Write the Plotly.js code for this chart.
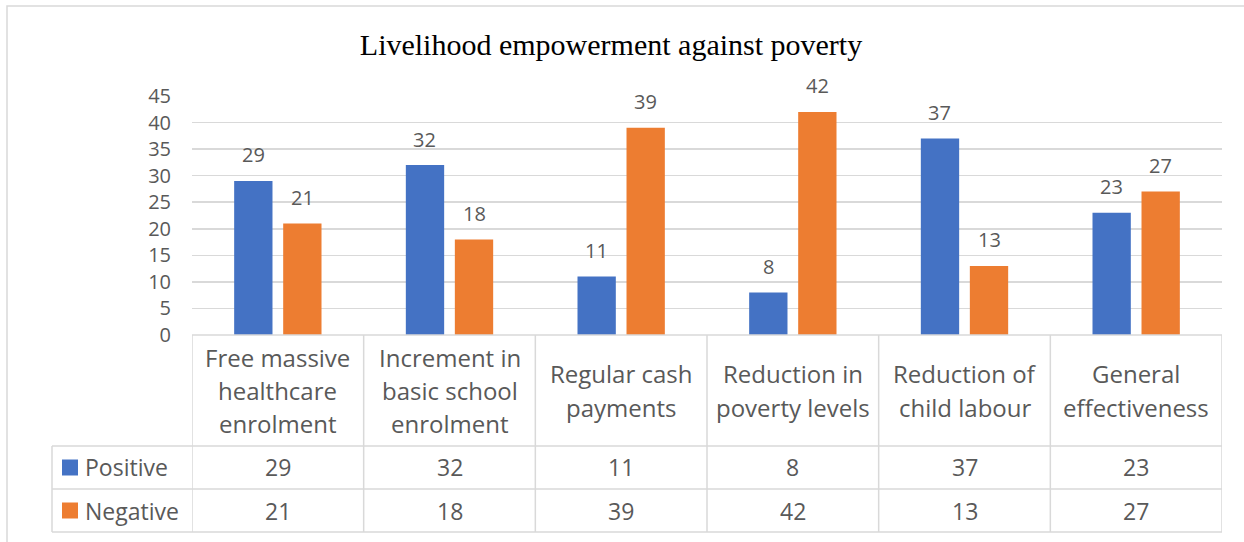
<!DOCTYPE html>
<html>
<head>
<meta charset="utf-8">
<script src="https://cdn.plot.ly/plotly-3.0.1.min.js"></script>
<style>html,body{margin:0;padding:0;background:#fff;}#chart{width:1244px;height:542px;}</style>
</head>
<body>
<div id="chart"></div>
<script>
// ---- data ----
const categories = ["Free massive healthcare enrolment", "Increment in basic school enrolment", "Regular cash payments", "Reduction in poverty levels", "Reduction of child labour", "General effectiveness"];
const categoryLabels = ["Free massive<br>healthcare<br>enrolment", "Increment in<br>basic school<br>enrolment", "Regular cash<br>payments", "Reduction in<br>poverty levels", "Reduction of<br>child labour", "General<br>effectiveness"];
const seriesNames = ["Positive", "Negative"];
const positive = [29, 32, 11, 8, 37, 23];
const negative = [21, 18, 39, 42, 13, 27];
const yTicks = [0, 5, 10, 15, 20, 25, 30, 35, 40, 45];

// ---- style ----
const colors = ["#4472C4", "#ED7D31"];
const textColor = "#595959";
const lineColor = "#D9D9D9";
const font = "Open Sans, sans-serif";
const W = 1244, H = 542;
const plotL = 192, plotR = 1222, plotT = 96, plotB = 335;
const pw = plotR - plotL, ph = plotB - plotT;
const px2paperX = px => (px - plotL) / pw;
const px2paperY = py => (plotB - py) / ph;

const rowLines = [446, 489, 532].map(px2paperY);
const headerMid = px2paperY(390.5);
const rowMids = [px2paperY(467.5), px2paperY(510.5)];
const tableLeft = px2paperX(52);
const lineStep = 33.3;

const seriesData = [positive, negative];
const traces = seriesNames.map((n, s) => ({
  type: "bar", name: n, x: categories, y: seriesData[s],
  marker: { color: colors[s] }, hoverinfo: "x+y+name"
}));

const bargap = 0.429, bargroupgap = 0.218;
const slot = (1 - bargap) / 2;
const offsets = [-slot / 2, slot / 2];

const annotations = [];
// data labels
seriesData.forEach((vals, s) => {
  vals.forEach((v, i) => {
    annotations.push({ x: i + offsets[s], y: v, xref: "x", yref: "y", text: String(v),
      showarrow: false, yanchor: "middle", yshift: 26,
      font: { family: font, size: 20, color: textColor } });
  });
});
// header row (one annotation per text line for Excel-like line spacing)
categoryLabels.forEach((lab, i) => {
  const lines = lab.split("<br>");
  lines.forEach((t, k) => {
    annotations.push({ x: i, y: headerMid, xref: "x", yref: "paper", text: t, showarrow: false,
      yanchor: "middle", yshift: -((k - (lines.length - 1) / 2) * lineStep),
      font: { family: font, size: 24, color: textColor } });
  });
});
// table value rows
seriesData.forEach((vals, s) => {
  vals.forEach((v, i) => {
    annotations.push({ x: i, y: rowMids[s], xref: "x", yref: "paper", text: String(v), showarrow: false,
      yanchor: "middle", font: { family: font, size: 23, color: textColor } });
  });
  annotations.push({ x: px2paperX(85), y: rowMids[s], xref: "paper", yref: "paper", text: seriesNames[s],
    showarrow: false, xanchor: "left", yanchor: "middle", xshift: -2, font: { family: font, size: 23, color: textColor } });
});

const shapes = [];
const ln = { color: lineColor, width: 1.5 };
// outer chart border
shapes.push({ type: "rect", xref: "paper", yref: "paper", x0: px2paperX(7), x1: px2paperX(1260),
  y0: px2paperY(6), y1: px2paperY(560), line: { color: lineColor, width: 1.5 }, layer: "below" });
// table top line
shapes.push({ type: "line", xref: "paper", yref: "paper", x0: 0, x1: 1, y0: 0, y1: 0, line: ln });
// horizontal row lines
rowLines.forEach(y => shapes.push({ type: "line", xref: "paper", yref: "paper", x0: tableLeft, x1: 1, y0: y, y1: y, line: ln }));
// vertical lines at category boundaries
for (let i = 0; i <= categories.length; i++) {
  shapes.push({ type: "line", xref: "x", yref: "paper", x0: i - 0.5, x1: i - 0.5, y0: 0, y1: rowLines[2], line: ln });
}
shapes.push({ type: "line", xref: "paper", yref: "paper", x0: tableLeft, x1: tableLeft, y0: rowLines[0], y1: rowLines[2], line: ln });
// legend keys
rowMids.forEach((ym, s) => {
  const half = 8 / ph;
  shapes.push({ type: "rect", xref: "paper", yref: "paper", x0: px2paperX(62), x1: px2paperX(78),
    y0: ym - half, y1: ym + half, fillcolor: colors[s], line: { width: 0 } });
});

const layout = {
  width: W, height: H,
  margin: { l: plotL, r: W - plotR, t: plotT, b: H - plotB, pad: 0 },
  paper_bgcolor: "#fff", plot_bgcolor: "#fff",
  title: { text: "Livelihood empowerment against poverty", xref: "container", yref: "container",
    x: 611 / W, xanchor: "center", y: 1 - 44 / H, yanchor: "middle",
    font: { family: "Liberation Serif, Times New Roman, serif", size: 30, color: "#000" } },
  showlegend: false,
  barmode: "group", bargap: bargap, bargroupgap: bargroupgap,
  xaxis: { type: "category", range: [-0.5, categories.length - 0.5], showticklabels: false,
    showgrid: false, zeroline: false, showline: false, ticks: "" },
  yaxis: { range: [0, 45], tickvals: yTicks, ticktext: yTicks.map(String), showgrid: true,
    gridcolor: lineColor, gridwidth: 1.5, zeroline: false, showline: false, ticks: "",
    ticklabelstandoff: 20,
    tickfont: { family: font, size: 20, color: textColor } },
  annotations: annotations, shapes: shapes
};

Plotly.newPlot("chart", traces, layout, { displayModeBar: false, staticPlot: true });
</script>
</body>
</html>
